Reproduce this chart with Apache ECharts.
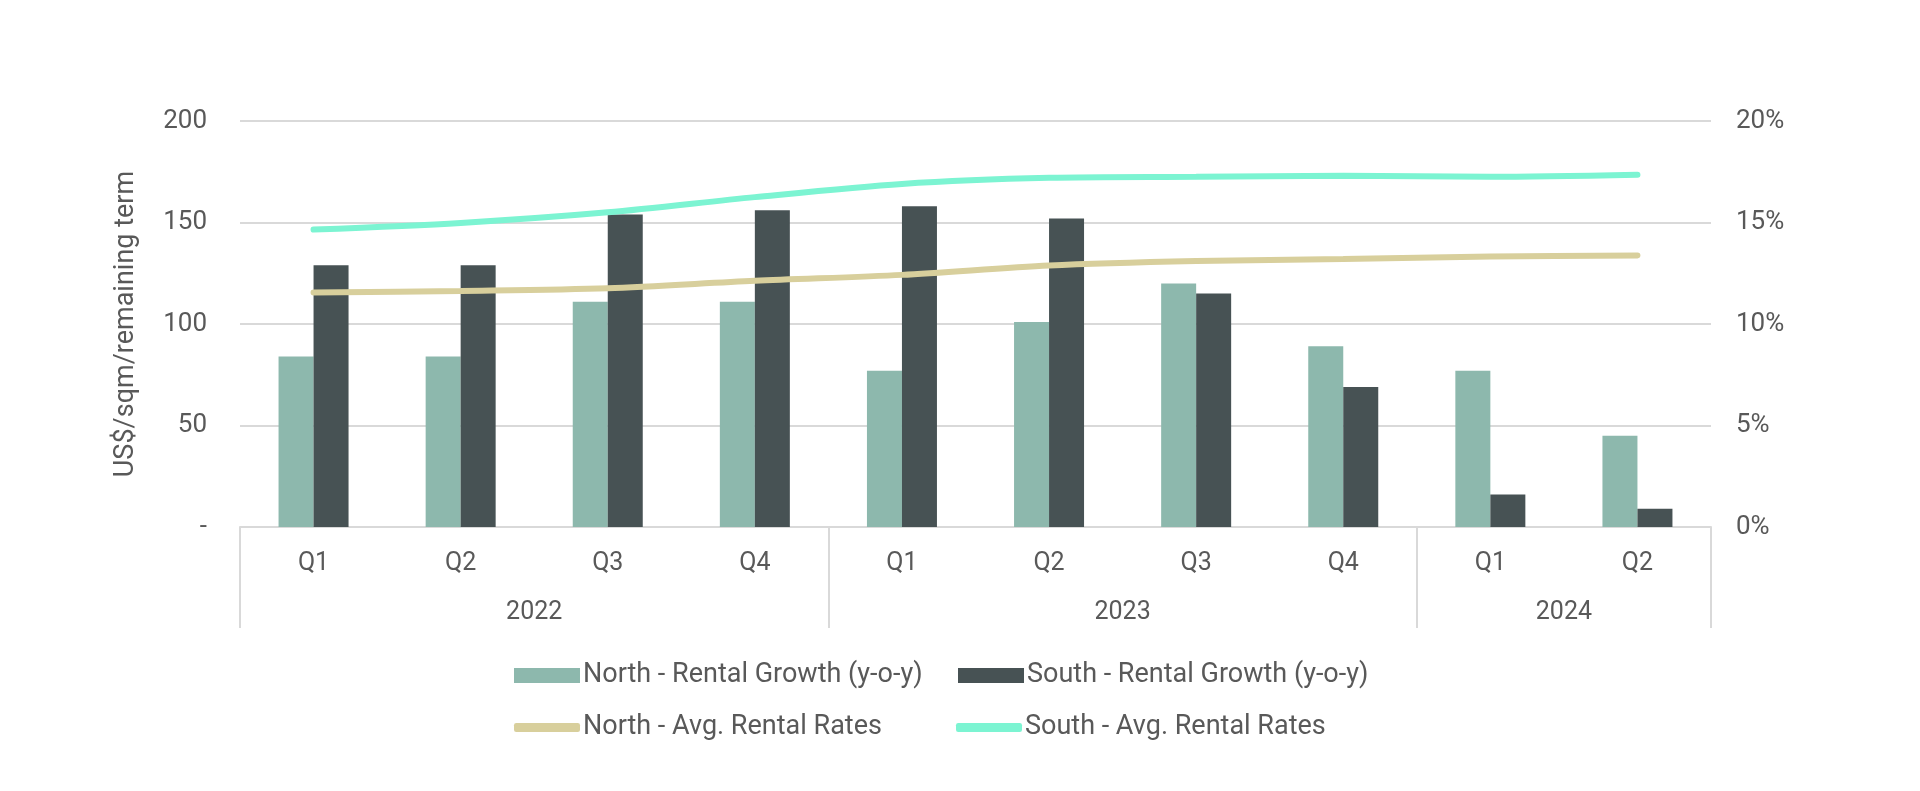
<!DOCTYPE html>
<html>
<head>
<meta charset="utf-8">
<script src="https://cdn.jsdelivr.net/npm/echarts@6/dist/echarts.min.js"></script>
<style>
html,body{margin:0;padding:0;background:#fff;}
#chart{width:1920px;height:791px;}
</style>
</head>
<body>
<div id="chart"></div>
<script>
// ---- data ----
const quarters = ['Q1','Q2','Q3','Q4','Q1','Q2','Q3','Q4','Q1','Q2'];
const years = ['2022','2023','2024'];
const yearGroupSizes = [4,4,2];
const northGrowth = [8.4, 8.4, 11.1, 11.1, 7.7, 10.1, 12.0, 8.9, 7.7, 4.5];   // %
const southGrowth = [12.9, 12.9, 15.4, 15.6, 15.8, 15.2, 11.5, 6.9, 1.6, 0.9]; // %
const northRates = [115.5, 116.3, 117.6, 121.3, 124.2, 128.8, 131.0, 132.0, 133.2, 133.8];
const southRates = [146.5, 149.8, 155.0, 162.5, 169.0, 172.0, 172.5, 173.0, 172.5, 173.5];
const leftTicks = {min:0, max:200, interval:50};
const rightTicks = {min:0, max:20, interval:5};
const seriesNames = ['North - Rental Growth (y-o-y)','South - Rental Growth (y-o-y)','North - Avg. Rental Rates','South - Avg. Rental Rates'];

// derived positions of year groups
const groupEdges = [0];
yearGroupSizes.forEach(s => groupEdges.push(groupEdges[groupEdges.length-1] + s));
const groupCenters = yearGroupSizes.map((s,i) => groupEdges[i] + s/2);

const FONT = 'Roboto, "Noto Sans", sans-serif';
const TXT = '#595959';
const GRID = '#d9d9d9';
const C_NB = '#8db8ad', C_SB = '#475254', C_NL = '#d8cf9c', C_SL = '#7cf4d2';

const chart = echarts.init(document.getElementById('chart'));
const legendBase = {
  orient:'horizontal', itemGap: 0, itemWidth: 66,
  textStyle:{fontFamily:FONT, fontSize:27, color:TXT, padding:[0,0,0,-2]}
};
chart.setOption({
  backgroundColor:'#fff',
  animation:false,
  textStyle:{fontFamily:FONT},
  grid:{left:240, right:209, top:121, bottom:264, containLabel:false},
  legend:[
    Object.assign({}, legendBase, {left:509, top:657, itemHeight:15, data:[{name:seriesNames[0], icon:'rect'}]}),
    Object.assign({}, legendBase, {left:953, top:657, itemHeight:15, data:[{name:seriesNames[1], icon:'rect'}]}),
    Object.assign({}, legendBase, {left:509, top:709, itemHeight:9, data:[{name:seriesNames[2], icon:'roundRect'}]}),
    Object.assign({}, legendBase, {left:951, top:709, itemHeight:9, data:[{name:seriesNames[3], icon:'roundRect'}]})
  ],
  xAxis:[
    {
      type:'category', data:quarters, position:'bottom',
      axisLine:{show:true, lineStyle:{color:GRID, width:2}},
      axisTick:{show:false},
      axisLabel:{color:TXT, fontSize:25, margin:24, fontFamily:FONT}
    },
    {
      type:'value', min:0, max:quarters.length, position:'bottom',
      axisLine:{show:false},
      splitLine:{show:false},
      axisTick:{show:true, customValues:groupEdges, length:101, inside:false, lineStyle:{color:GRID, width:2}},
      axisLabel:{show:true, customValues:groupCenters, margin:73, color:TXT, fontSize:25, fontFamily:FONT,
        formatter:function(v){ const i = groupCenters.indexOf(v); return i>=0 ? years[i] : ''; }}
    }
  ],
  yAxis:[
    {
      type:'value', min:leftTicks.min, max:leftTicks.max, interval:leftTicks.interval,
      name:'US$/sqm/remaining term', nameLocation:'middle', nameGap:100, nameRotate:90,
      nameTextStyle:{color:TXT, fontSize:27, fontFamily:FONT},
      axisLine:{show:false}, axisTick:{show:false},
      splitLine:{show:true, lineStyle:{color:GRID, width:2}},
      axisLabel:{color:TXT, fontSize:26, margin:33, fontFamily:FONT,
        formatter:function(v){ return v===0 ? '-' : String(v); }}
    },
    {
      type:'value', min:rightTicks.min, max:rightTicks.max, interval:rightTicks.interval,
      axisLine:{show:false}, axisTick:{show:false}, splitLine:{show:false},
      axisLabel:{color:TXT, fontSize:26, margin:25, fontFamily:FONT, formatter:'{value}%'}
    }
  ],
  series:[
    {name:seriesNames[0], type:'bar', xAxisIndex:0, yAxisIndex:1, data:northGrowth, barWidth:35, barGap:'0%',
     itemStyle:{color:C_NB}, z:2},
    {name:seriesNames[1], type:'bar', xAxisIndex:0, yAxisIndex:1, data:southGrowth, barWidth:35, barGap:'0%',
     itemStyle:{color:C_SB}, z:2},
    {name:seriesNames[2], type:'line', xAxisIndex:0, yAxisIndex:0, data:northRates, smooth:0.3, symbol:'none',
     lineStyle:{color:C_NL, width:6, cap:'round'}, itemStyle:{color:C_NL}, z:3},
    {name:seriesNames[3], type:'line', xAxisIndex:0, yAxisIndex:0, data:southRates, smooth:0.3, symbol:'none',
     lineStyle:{color:C_SL, width:6, cap:'round'}, itemStyle:{color:C_SL}, z:3}
  ]
});
</script>
</body>
</html>
